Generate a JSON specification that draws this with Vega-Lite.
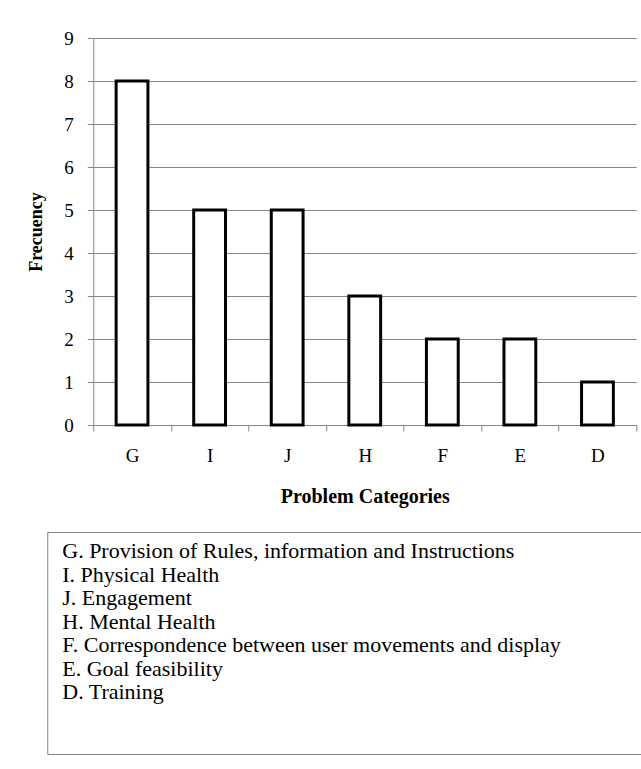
{
  "$schema": "https://vega.github.io/schema/vega-lite/v6.json",
  "background": "white",
  "padding": {"left": 27, "top": 29, "right": 0, "bottom": 0},
  "config": {
    "font": "Liberation Serif",
    "view": {"stroke": null}
  },
  "spacing": 25,
  "center": true,
  "vconcat": [
    {
      "width": 543,
      "height": 387,
      "data": {
        "values": [
          {"category": "G", "frequency": 8},
          {"category": "I", "frequency": 5},
          {"category": "J", "frequency": 5},
          {"category": "H", "frequency": 3},
          {"category": "F", "frequency": 2},
          {"category": "E", "frequency": 2},
          {"category": "D", "frequency": 1}
        ]
      },
      "mark": {"type": "bar", "fill": "white", "stroke": "black", "strokeWidth": 3, "width": {"band": 0.41}},
      "encoding": {
        "x": {
          "field": "category",
          "type": "nominal",
          "sort": null,
          "scale": {"paddingInner": 0, "paddingOuter": 0},
          "axis": {
            "title": "Problem Categories",
            "titleFont": "Liberation Serif",
            "titleFontSize": 20,
            "titleFontWeight": "bold",
            "titleColor": "black",
            "titlePadding": 21,
            "labelAngle": 0,
            "labelFont": "Liberation Serif",
            "labelFontSize": 19,
            "labelColor": "black",
            "labelPadding": 15,
            "tickBand": "extent",
            "tickColor": "#868686",
            "tickSize": 6,
            "domainColor": "#868686",
            "grid": false
          }
        },
        "y": {
          "field": "frequency",
          "type": "quantitative",
          "scale": {"domain": [0, 9], "nice": false},
          "axis": {
            "title": "Frecuency",
            "titleFont": "Liberation Serif",
            "titleFontSize": 18,
            "titleFontWeight": "bold",
            "titleColor": "black",
            "titlePadding": 18,
            "values": [0, 1, 2, 3, 4, 5, 6, 7, 8, 9],
            "labelFont": "Liberation Serif",
            "labelFontSize": 19,
            "labelColor": "black",
            "labelPadding": 14,
            "tickColor": "#868686",
            "tickSize": 6,
            "domainColor": "#868686",
            "gridColor": "#868686",
            "grid": true
          }
        }
      }
    },
    {
      "width": 635,
      "height": 222,
      "view": {"stroke": "#808080", "strokeWidth": 1},
      "data": {
        "values": [
          {"code": "G", "label": "G. Provision of Rules, information and Instructions"},
          {"code": "I", "label": "I. Physical Health"},
          {"code": "J", "label": "J. Engagement"},
          {"code": "H", "label": "H. Mental Health"},
          {"code": "F", "label": "F. Correspondence between user movements and display"},
          {"code": "E", "label": "E. Goal feasibility"},
          {"code": "D", "label": "D. Training"}
        ]
      },
      "mark": {"type": "text", "align": "left", "baseline": "middle", "font": "Liberation Serif", "fontSize": 22, "color": "black", "dx": 15},
      "encoding": {
        "y": {
          "field": "code",
          "type": "ordinal",
          "sort": null,
          "scale": {"type": "point", "range": [19, 160], "padding": 0},
          "axis": null
        },
        "x": {"value": 0},
        "text": {"field": "label"}
      }
    }
  ]
}
